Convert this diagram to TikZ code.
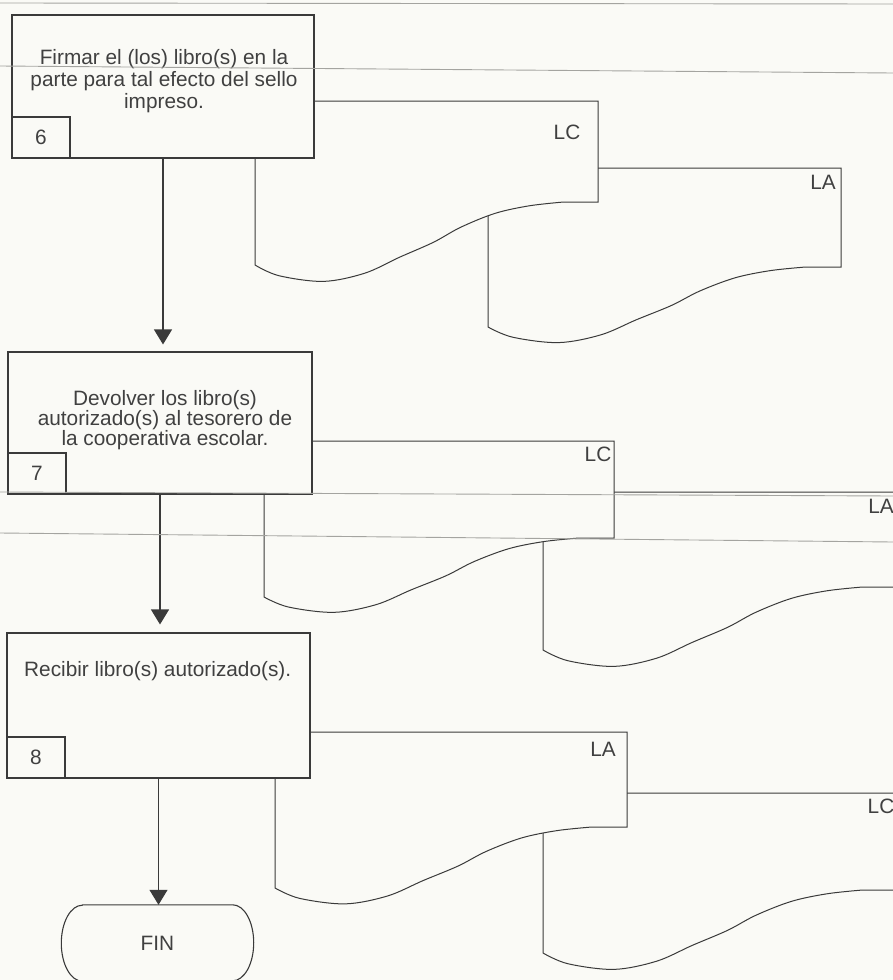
\documentclass[tikz,border=0pt]{standalone}
\usepackage{fontspec}
\setmainfont{Liberation Sans}
\usetikzlibrary{arrows.meta}
\definecolor{bg}{HTML}{FAFAF6}
\definecolor{ink}{HTML}{3A3A3A}
\definecolor{txt}{HTML}{404040}
\definecolor{scan}{HTML}{A4A4A0}
% document shape: #1 left, #2 top, #3 right, #4 bottom-left y, #5 bottom-right y
\newcommand\docshape[5]{%
  \pgfmathsetmacro\dW{#3-#1}%
  \pgfmathsetmacro\dD{#4-#5}%
  \filldraw[docline] (#1,#2) -- (#3,#2) -- (#3,#5)
    -- plot[smooth,tension=0.55] coordinates {
      (#1+0.90*\dW,#4-1.00*\dD) (#1+0.80*\dW,#4-0.94*\dD)
      (#1+0.70*\dW,#4-0.82*\dD) (#1+0.60*\dW,#4-0.60*\dD)
      (#1+0.52*\dW,#4-0.36*\dD) (#1+0.42*\dW,#4-0.12*\dD)
      (#1+0.32*\dW,#4+0.13*\dD) (#1+0.20*\dW,#4+0.26*\dD)
      (#1+0.07*\dW,#4+0.17*\dD) (#1,#4)} -- cycle;}
\begin{document}
\begin{tikzpicture}[x=1pt,y=-1pt,
  box/.style={draw=ink, line width=1.1pt, fill=bg, inner sep=0pt},
  numbox/.style={draw=ink, line width=1.1pt, fill=bg, minimum width=58pt, minimum height=41pt, inner sep=0pt},
  lbl/.style={text=txt, font=\fontsize{20.8}{22}\selectfont, inner sep=0pt},
  docline/.style={draw=ink, line width=1pt, fill=bg},
  flow/.style={draw=ink, line width=1.1pt, -{Triangle[width=18pt,length=15pt]}},
  scanline/.style={draw=scan, line width=0.9pt}]
\fill[bg] (0,0) rectangle (893,980);
\useasboundingbox (0,0) rectangle (893,980);
\clip (0,0) rectangle (893,980);

% ---------- row 1 ----------
\docshape{488}{168}{841}{327}{267}
\docshape{255}{101}{598}{265}{202}
\node[box, minimum width=302pt, minimum height=143pt] (b6) at (163,86.5) {};
\node[numbox, anchor=south west] (n6) at (b6.south west) {};
\node[lbl] (k6) at (n6.center) {6};
\node[lbl, align=center] (t6) at (164,81) {Firmar el (los) libro(s) en la\\parte para tal efecto del sello\\impreso.};
\node[lbl] (lc1) at (567,132) {LC};
\node[lbl] (la1) at (823,182) {LA};

% ---------- row 2 ----------
\docshape{543}{492}{898}{650}{587}
\docshape{264}{441}{614}{597}{538}
\node[box, minimum width=304pt, minimum height=142pt] (b7) at (160,423) {};
\node[numbox, anchor=south west] (n7) at (b7.south west) {};
\node[lbl] (k7) at (n7.center) {7};
\node[lbl, align=center, font=\fontsize{20.8}{19}\selectfont] (t7) at (165,420) {Devolver los libro(s)\\autorizado(s) al tesorero de\\la cooperativa escolar.};
\node[lbl] (lc2) at (598,454) {LC};
\node[lbl] (la2) at (881,506) {LA};

% ---------- row 3 ----------
\docshape{543}{793}{898}{953}{890}
\docshape{275}{732}{627}{888}{827}
\node[box, minimum width=303pt, minimum height=145pt] (b8) at (158.5,705.5) {};
\node[numbox, anchor=south west] (n8) at (b8.south west) {};
\node[lbl] (k8) at (n8.center) {8};
\node[lbl, anchor=base west] (t8) at (24,676) {Recibir libro(s) autorizado(s).};
\node[lbl] (la3) at (603,749) {LA};
\node[lbl] (lc3) at (881,806) {LC};

% ---------- terminator ----------
\node[lbl, minimum width=192pt, minimum height=76pt] (fin) at (157.5,943) {FIN};
\draw[draw=ink, line width=1.1pt]
  ([xshift=21pt]fin.north west) -- ([xshift=-21pt]fin.north east)
  arc[start angle=90, end angle=-90, x radius=21pt, y radius=38pt]
  -- ([xshift=21pt]fin.south west)
  arc[start angle=270, end angle=90, x radius=21pt, y radius=38pt] -- cycle;

% ---------- flow arrows ----------
\draw[flow, shorten >=7pt] (b6.south) -- (b6.south |- b7.north);
\draw[flow, shorten >=8pt] (b7.south) -- (b7.south |- b8.north);
\draw[flow] (b8.south) -- (b8.south |- fin.north);

% ---------- scan artefact lines ----------
\draw[scanline] (0,3) -- (893,4);
\draw[scanline] (0,66) -- (893,73);
\draw[scanline] (0,492) -- (893,496);
\draw[scanline] (0,533) -- (893,542);
\end{tikzpicture}
\end{document}
